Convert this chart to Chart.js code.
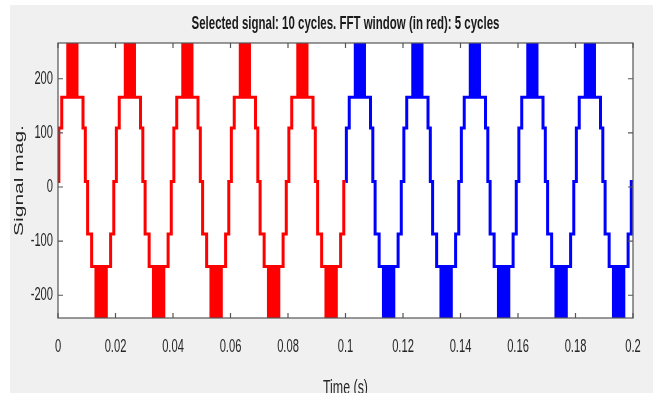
<!DOCTYPE html>
<html>
<head>
<meta charset="utf-8">
<script src="https://cdn.jsdelivr.net/npm/chart.js@4"></script>
<style>
  html, body { margin: 0; padding: 0; background: #fff; }
  canvas { display: block; }
</style>
</head>
<body>
<canvas id="fft-chart" width="653" height="393"></canvas>
<script>
// cycles of the selected signal (50 Hz), first 5 are the FFT window (red)
const cycleStarts = [0, 0.02, 0.04, 0.06, 0.08, 0.1, 0.12, 0.14, 0.16, 0.18];
const cycleColors = ['red', 'red', 'red', 'red', 'red', 'blue', 'blue', 'blue', 'blue', 'blue'];
const endTime = 0.2;

// staircase inside one cycle: step times (s after cycle start) and level after each step
const startLevel = 10;
const stepTimes = [0.0003, 0.0013, 0.0087, 0.0095, 0.0103, 0.0117, 0.0183, 0.0194];
const stepLevels = [109, 166, 109, 10, -87, -147, -87, 10];

// switching bursts on the peaks (they run off the axes)
const posBurst = [0.0034, 0.0066];
const negBurst = [0.0132, 0.0168];
const posBurstBase = 166, posBurstTip = 400;
const negBurstBase = -147, negBurstTip = -400;

// axes
const xTickValues = [0, 0.02, 0.04, 0.06, 0.08, 0.1, 0.12, 0.14, 0.16, 0.18, 0.2];
const xTickLabels = ['0', '0.02', '0.04', '0.06', '0.08', '0.1', '0.12', '0.14', '0.16', '0.18', '0.2'];
const yTickValues = [-200, -100, 0, 100, 200];
const yTickLabels = ['-200', '-100', '0', '100', '200'];

const COLORS = { red: '#ff0000', blue: '#0000ff' };
const SQUEEZE = 0.62; // the picture's text is narrow

function buildLine(color) {
  const idx = cycleColors.map((c, i) => (c === color ? i : -1)).filter(i => i >= 0);
  const pts = [{ x: cycleStarts[idx[0]], y: startLevel }];
  let last = startLevel;
  idx.forEach(i => {
    stepTimes.forEach((t, k) => {
      pts.push({ x: cycleStarts[i] + t, y: stepLevels[k] });
      last = stepLevels[k];
    });
  });
  const after = idx[idx.length - 1] + 1;
  pts.push({ x: after < cycleStarts.length ? cycleStarts[after] : endTime, y: last });
  return pts;
}

function buildBursts(color, span, base, tip) {
  const pts = [];
  cycleStarts.forEach((cs, i) => {
    if (cycleColors[i] !== color) return;
    const a = cs + span[0], b = cs + span[1];
    pts.push({ x: a, y: base }, { x: a, y: tip }, { x: b, y: tip }, { x: b, y: base }, { x: b, y: null });
  });
  return pts;
}

const datasets = [];
['red', 'blue'].forEach(color => {
  datasets.push({
    data: buildLine(color), stepped: 'before', borderColor: COLORS[color],
    borderWidth: 3, pointRadius: 0, fill: false, clip: 0
  });
  datasets.push({
    data: buildBursts(color, posBurst, posBurstBase, posBurstTip), borderColor: COLORS[color],
    backgroundColor: COLORS[color], borderWidth: 3, pointRadius: 0, fill: { value: posBurstBase },
    spanGaps: false, clip: 0
  });
  datasets.push({
    data: buildBursts(color, negBurst, negBurstBase, negBurstTip), borderColor: COLORS[color],
    backgroundColor: COLORS[color], borderWidth: 3, pointRadius: 0, fill: { value: negBurstBase },
    spanGaps: false, clip: 0
  });
});

const canvas = document.getElementById('fft-chart');
const ctx = canvas.getContext('2d');

// narrow every text horizontally around its anchor (screen space)
const rawFillText = ctx.fillText;
ctx.fillText = function (text, x, y, maxWidth) {
  const m = this.getTransform();
  const p = m.transformPoint(new DOMPoint(x, y));
  this.save();
  this.setTransform(new DOMMatrix().translate(p.x, p.y).scale(SQUEEZE, 1).translate(-p.x, -p.y).multiply(m));
  if (maxWidth === undefined) rawFillText.call(this, text, x, y);
  else rawFillText.call(this, text, x, y, maxWidth);
  this.restore();
};

// matlab style box: grey figure, white axes, ticks pointing inwards on all sides
const boxPlugin = {
  id: 'box',
  beforeDraw(chart) {
    const { ctx, width, height, chartArea: a } = chart;
    ctx.save();
    ctx.fillStyle = '#ffffff';
    ctx.fillRect(0, 0, width, height);
    ctx.fillStyle = '#f0f0f0';
    ctx.fillRect(10, 5, width - 10, height - 5);
    ctx.fillStyle = '#ffffff';
    ctx.fillRect(a.left, a.top, a.right - a.left, a.bottom - a.top);
    ctx.restore();
  },
  afterDatasetsDraw(chart) {
    const { ctx, chartArea: a, scales: { x, y } } = chart;
    const len = 5;
    ctx.save();
    ctx.strokeStyle = '#555555';
    ctx.lineWidth = 1.2;
    ctx.beginPath();
    x.ticks.forEach(t => {
      const px = x.getPixelForValue(t.value);
      ctx.moveTo(px, a.bottom); ctx.lineTo(px, a.bottom - len);
      ctx.moveTo(px, a.top); ctx.lineTo(px, a.top + len);
    });
    y.ticks.forEach(t => {
      const py = y.getPixelForValue(t.value);
      ctx.moveTo(a.left, py); ctx.lineTo(a.left + len, py);
      ctx.moveTo(a.right, py); ctx.lineTo(a.right - len, py);
    });
    ctx.stroke();
    ctx.strokeRect(a.left, a.top, a.right - a.left, a.bottom - a.top);
    ctx.restore();
  }
};

const FONT = "'Liberation Sans', Arial, sans-serif";
const noPad = s => { s.paddingLeft = 0; s.paddingRight = 0; s.paddingTop = 0; s.paddingBottom = 0; };

new Chart(ctx, {
  type: 'line',
  data: { datasets },
  plugins: [boxPlugin],
  options: {
    responsive: false,
    animation: false,
    layout: { padding: { left: 0, right: 20, top: 0, bottom: 0 } },
    plugins: {
      legend: { display: false },
      tooltip: { enabled: false },
      title: {
        display: true,
        fullSize: false,
        text: 'Selected signal: 10 cycles. FFT window (in red): 5 cycles',
        color: '#1a1a1a',
        font: { family: FONT, size: 18.5, weight: 'bold', lineHeight: 1.2 },
        padding: { top: 13, bottom: 7.8 }
      }
    },
    scales: {
      x: {
        type: 'linear',
        min: 0,
        max: endTime,
        grid: { display: false, drawTicks: false },
        border: { display: false },
        afterBuildTicks: s => { s.ticks = xTickValues.map(v => ({ value: v })); },
        afterFit: s => { s.height = 75; noPad(s); },
        ticks: {
          autoSkip: false, maxRotation: 0, padding: 18, color: '#262626',
          font: { family: FONT, size: 18 },
          callback: (v, i) => xTickLabels[i]
        },
        title: {
          display: true, text: 'Time (s)', color: '#262626',
          font: { family: FONT, size: 20, lineHeight: 1.2 },
          padding: { top: 0, bottom: -7 }
        }
      },
      y: {
        min: -242,
        max: 266,
        grid: { display: false, drawTicks: false },
        border: { display: false },
        afterBuildTicks: s => { s.ticks = yTickValues.map(v => ({ value: v })); },
        afterFit: s => { s.width = 58; noPad(s); },
        ticks: {
          padding: 5, color: '#262626',
          font: { family: FONT, size: 18 },
          callback: (v, i) => yTickLabels[i]
        },
        title: {
          display: true, text: 'Signal mag.', color: '#262626',
          font: { family: FONT, size: 21, lineHeight: 1.2 },
          padding: { top: 7, bottom: 0 }
        }
      }
    }
  }
});
</script>
</body>
</html>
